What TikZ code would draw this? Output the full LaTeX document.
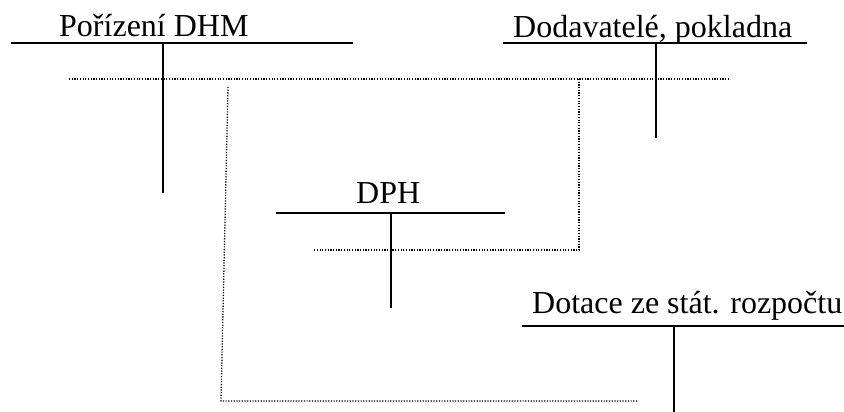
\documentclass[tikz,border=0pt]{standalone}
\usepackage{fontspec}
\setmainfont{Liberation Serif}
\begin{document}
\begin{tikzpicture}[x=1pt,y=-1pt,
  title/.style={anchor=base west,inner sep=0pt,font=\fontsize{32}{38}\selectfont},
  tline/.style={line width=1.8pt},
  link/.style={line width=1.3pt,dash pattern=on 1.2pt off 1.5pt}]
\useasboundingbox (0,0) rectangle (844,412);

% T-account: Pořízení DHM
\node[title] (t1) at (59,37) {Pořízení DHM};
\coordinate (a1l) at (11,43);
\coordinate (a1r) at (353,43);
\coordinate (a1t) at (163,43);
\coordinate (a1b) at (163,193);
\draw[tline] (a1l) -- (a1r);
\draw[tline] (a1t) -- (a1b);

% T-account: Dodavatelé, pokladna
\node[title] (t2) at (513,37.5) {Dodavatelé, pokladna};
\coordinate (a2l) at (503,43);
\coordinate (a2r) at (807,43);
\coordinate (a2t) at (656,43);
\coordinate (a2b) at (656,138);
\draw[tline] (a2l) -- (a2r);
\draw[tline] (a2t) -- (a2b);

% T-account: DPH
\node[title] (t3) at (356,203) {DPH};
\coordinate (a3l) at (276,213);
\coordinate (a3r) at (505,213);
\coordinate (a3t) at (391,213);
\coordinate (a3b) at (391,308);
\draw[tline] (a3l) -- (a3r);
\draw[tline] (a3t) -- (a3b);

% T-account: Dotace ze státního rozpočtu
\node[title] (t4) at (532,313) {Dotace ze stát. rozpočtu};
\coordinate (a4l) at (522,326);
\coordinate (a4r) at (844,326);
\coordinate (a4t) at (674,326);
\coordinate (a4b) at (674,412);
\draw[tline] (a4l) -- (a4r);
\draw[tline] (a4t) -- (a4b);

% dotted postings between the accounts
\coordinate (p1l) at (69,79);
\coordinate (p1r) at (730,79);
\draw[link] (p1l) -- (p1r);

\coordinate (p2a) at (579,79);
\coordinate (p2b) at (579,250);
\coordinate (p2c) at (313,250);
\draw[link] (p2a) -- (p2b) -- (p2c);

\coordinate (p3a) at (228,87);
\coordinate (p3b) at (221,401);
\coordinate (p3c) at (637,401);
\draw[link] (p3a) -- (p3b) -- (p3c);
\end{tikzpicture}
\end{document}
